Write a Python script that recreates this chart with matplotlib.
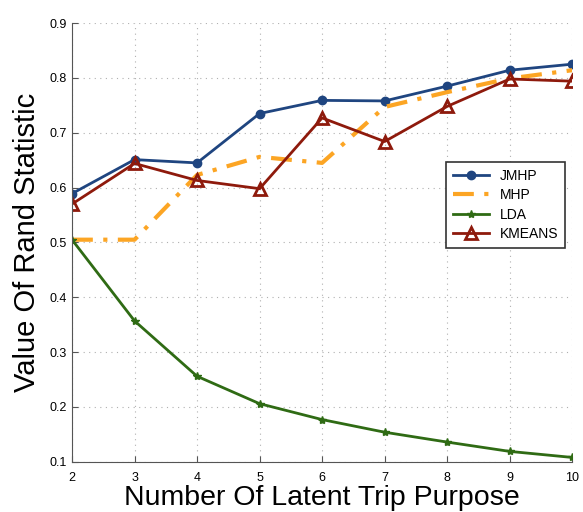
import matplotlib
matplotlib.use("Agg")
import matplotlib.pyplot as plt

plt.rcParams['font.family'] = ['Liberation Sans', 'DejaVu Sans']

x = [2, 3, 4, 5, 6, 7, 8, 9, 10]
jmhp = [0.589, 0.651, 0.645, 0.735, 0.759, 0.758, 0.785, 0.814, 0.825]
mhp = [0.505, 0.505, 0.623, 0.656, 0.645, 0.747, 0.774, 0.799, 0.814]
lda = [0.505, 0.357, 0.256, 0.206, 0.177, 0.154, 0.136, 0.119, 0.108]
kmeans = [0.570, 0.644, 0.613, 0.598, 0.727, 0.684, 0.748, 0.798, 0.794]
yticks = [0.1, 0.2, 0.3, 0.4, 0.5, 0.6, 0.7, 0.8, 0.9]

fig = plt.figure(figsize=(5.83, 5.12), dpi=100)
ax = fig.add_axes([0.1235, 0.098, 0.858, 0.857])

ax.plot(x, jmhp, color='#1f4580', lw=2.0, marker='o', ms=6, label='JMHP')
ax.plot(x, mhp, color='#fca524', lw=3.0, ls=(0, (5, 2.5, 1, 2.5)), label='MHP')
ax.plot(x, lda, color='#2f6b14', lw=2.0, marker='*', ms=6, label='LDA')
ax.plot(x, kmeans, color='#8e1a0c', lw=2.0, marker='^', ms=9, mfc='none', mew=2.0, label='KMEANS')

ax.set_xlim(2, 10)
ax.set_ylim(0.1, 0.9)
ax.set_xticks(x)
ax.set_yticks(yticks)
ax.set_xticklabels([str(v) for v in x])
ax.set_yticklabels([f'{v:.1f}' for v in yticks])
ax.tick_params(direction='in', labelsize=9, length=4, color='#555555')
ax.tick_params(axis='x', pad=7)
ax.grid(True, ls=(0, (1, 4)), color='#b0b0b0', lw=0.8)
for s in ['top', 'right']:
    ax.spines[s].set_visible(False)
for s in ['left', 'bottom']:
    ax.spines[s].set_color('#555555')

ax.set_xlabel('Number Of Latent Trip Purpose', fontsize=20.5)
ax.set_ylabel('Value Of Rand Statistic', fontsize=21)
ax.xaxis.set_label_coords(0.5, -0.052)
ax.yaxis.set_label_coords(-0.062, 0.5)

leg = ax.legend(loc='upper right', bbox_to_anchor=(1.0, 0.70), fontsize=10,
                fancybox=False, edgecolor='#333333', framealpha=1,
                handlelength=2.6, borderpad=0.5, labelspacing=0.4)
leg.get_frame().set_linewidth(1.2)

fig.savefig('out.png', dpi=100)
